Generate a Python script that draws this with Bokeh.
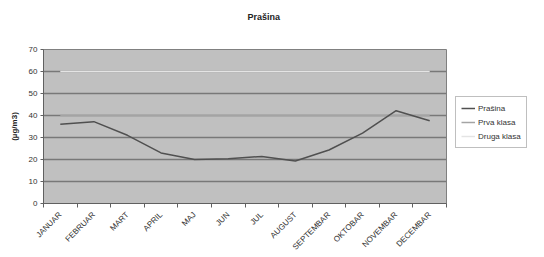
import numpy as np
from math import pi
from bokeh.plotting import figure
from bokeh.layouts import row
from bokeh.models import (FixedTicker, Legend, LegendItem, Range1d, LinearAxis, Title)
from bokeh.embed import file_html
from bokeh.resources import INLINE

months = ["JANUAR", "FEBRUAR", "MART", "APRIL", "MAJ", "JUN", "JUL",
          "AUGUST", "SEPTEMBAR", "OKTOBAR", "NOVEMBAR", "DECEMBAR"]
prasina = [36, 37.2, 31, 23, 20, 20.3, 21.4, 19.3, 24.3, 32, 42.2, 37.6]
prva_klasa = [40] * 12
druga_klasa = [60] * 12
y_ticks = [0, 10, 20, 30, 40, 50, 60, 70]
series_names = ["Prašina", "Prva klasa", "Druga klasa"]

FONT = "Liberation Sans"
COLORS = ["#505050", "#a4a4a4", "#e4e4e4"]

x = np.arange(len(months)) + 0.5
series = [prasina, prva_klasa, druga_klasa]

p = figure(width=447, height=257, output_backend="svg", toolbar_location=None,
           x_range=Range1d(0, len(months)), y_range=Range1d(0, 70),
           min_border_left=43, min_border_right=1, min_border_top=49,
           min_border_bottom=54)
p.title.text = ""
p.title.standoff = 0

# invisible spacer axis directly above the plot area, pushes the title upward
spacer = LinearAxis(ticker=FixedTicker(ticks=[]), axis_line_color=None,
                    major_tick_line_color=None, minor_tick_line_color=None,
                    major_tick_out=0, major_tick_in=0, major_label_text_font_size="0px",
                    axis_label=" ", axis_label_text_font_size="16px",
                    axis_label_text_color=None, axis_label_standoff=0)
p.add_layout(spacer, "above")

main_title = Title(text="Prašina", text_font=FONT, text_font_size="9px",
                   text_font_style="bold", text_color="#222222",
                   align="left", offset=204, standoff=16)
p.add_layout(main_title, "above")

p.background_fill_color = "#c0c0c0"
p.border_fill_color = "white"
p.outline_line_color = "#808080"
p.outline_line_width = 1

# grid
p.xgrid.visible = False
p.ygrid.ticker = FixedTicker(ticks=y_ticks[1:-1])
p.ygrid.grid_line_color = "#787878"
p.ygrid.grid_line_width = 1.5

# x axis
xaxis = p.below[0]
xaxis.ticker = FixedTicker(ticks=list(x), minor_ticks=list(range(len(months) + 1)))
xaxis.major_label_overrides = {float(v): m for v, m in zip(x, months)}
xaxis.major_tick_line_color = None
xaxis.minor_tick_line_color = "#606060"
xaxis.minor_tick_out = 4
xaxis.minor_tick_in = 0
xaxis.major_label_orientation = pi / 4
xaxis.major_label_text_font = FONT
xaxis.major_label_text_font_size = "8px"
xaxis.major_label_text_color = "#333333"
xaxis.major_label_standoff = 4
xaxis.axis_line_color = "#606060"

# y axis
p.yaxis.ticker = FixedTicker(ticks=y_ticks)
p.yaxis.minor_tick_line_color = None
p.yaxis.major_tick_out = 3
p.yaxis.major_tick_in = 0
p.yaxis.major_tick_line_color = "#606060"
p.yaxis.axis_line_color = "#606060"
p.yaxis.major_label_text_font = FONT
p.yaxis.major_label_text_font_size = "8px"
p.yaxis.major_label_text_color = "#333333"
p.yaxis.major_label_standoff = 3
p.yaxis.axis_label = "(µg/m3)"
p.yaxis.axis_label_text_font = FONT
p.yaxis.axis_label_text_font_size = "8px"
p.yaxis.axis_label_text_font_style = "bold"
p.yaxis.axis_label_text_color = "#222222"
p.yaxis.axis_label_standoff = 7

for vals, col in reversed(list(zip(series, COLORS))):
    p.line(x, vals, line_color=col, line_width=1.5)

# legend panel (separate figure so the box can sit outside the plot area)
q = figure(width=97, height=257, output_backend="svg", toolbar_location=None,
           x_range=Range1d(0, 1), y_range=Range1d(-2, -1),
           x_axis_location=None, y_axis_location=None,
           min_border_left=0, min_border_right=0, min_border_top=0,
           min_border_bottom=0)
q.xgrid.visible = False
q.ygrid.visible = False
q.outline_line_color = None
q.background_fill_color = "white"
q.border_fill_color = "white"

items = []
for name, vals, col in zip(series_names, series, COLORS):
    r = q.line(x, vals, line_color=col, line_width=1.5)
    items.append(LegendItem(label=name, renderers=[r]))

legend = Legend(items=items, location=(8, 55))
legend.border_line_color = "#808080"
legend.border_line_width = 1
legend.background_fill_color = "white"
legend.background_fill_alpha = 1
legend.label_text_font = FONT
legend.label_text_font_size = "8px"
legend.label_text_color = "#333333"
legend.glyph_width = 14
legend.glyph_height = 12
legend.label_height = 12
legend.label_standoff = 3
legend.spacing = 2
legend.padding = 5
legend.margin = 0
q.add_layout(legend, "center")

layout = row(p, q, spacing=0)
open("out.html", "w").write(file_html(layout, INLINE))
